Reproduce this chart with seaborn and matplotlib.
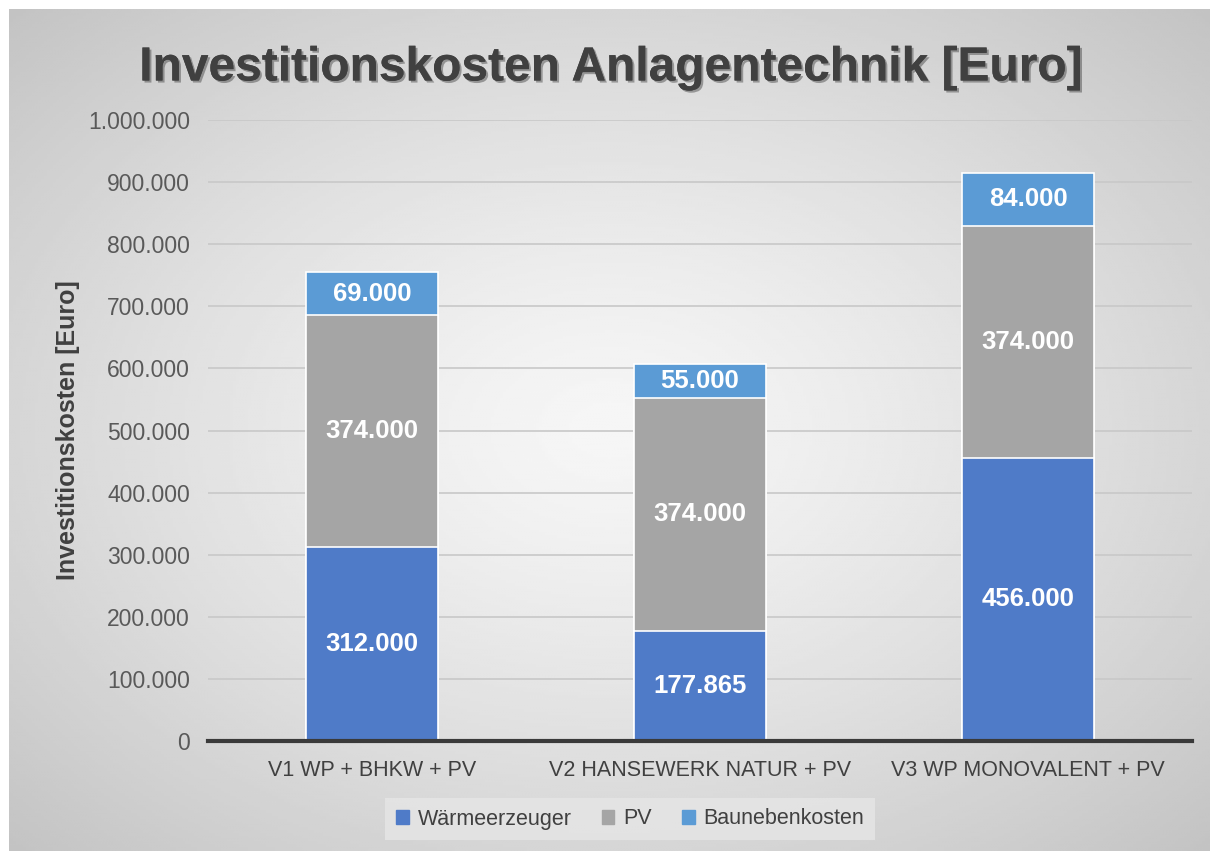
import numpy as np
import pandas as pd
import seaborn as sns
import matplotlib.pyplot as plt
from matplotlib.ticker import FuncFormatter
from matplotlib import patheffects

categories = ["V1 WP + BHKW + PV", "V2 HANSEWERK NATUR + PV", "V3 WP MONOVALENT + PV"]
waermeerzeuger = [312000, 177865, 456000]
pv = [374000, 374000, 374000]
baunebenkosten = [69000, 55000, 84000]
series_names = ["Wärmeerzeuger", "PV", "Baunebenkosten"]
colors = ["#4f7bc8", "#a5a5a5", "#5b9bd5"]

df = pd.DataFrame({"Variante": categories, "Wärmeerzeuger": waermeerzeuger,
                   "PV": pv, "Baunebenkosten": baunebenkosten})

sns.set_theme(style="white")
plt.rcParams["font.family"] = ["Liberation Sans", "DejaVu Sans"]
plt.rcParams["savefig.bbox"] = "standard"
plt.rcParams["savefig.pad_inches"] = 0

fig = plt.figure(figsize=(12.10, 8.51), dpi=100)
fig.patch.set_facecolor("white")

# radial grey background of the chart frame
bg = fig.add_axes([9 / 1210, 0, 1 - 9 / 1210, 1 - 9 / 851])
yy, xx = np.mgrid[-1:1:300j, -1:1:400j]
r = np.sqrt(xx ** 2 + yy ** 2) / np.sqrt(2)
grad = 0.965 - 0.2 * r ** 1.3
bg.imshow(grad, cmap="gray", vmin=0, vmax=1, aspect="auto", interpolation="bilinear",
          extent=(0, 1, 0, 1))
bg.set_xlim(0, 1)
bg.set_ylim(0, 1)
bg.axis("off")
bg.set_zorder(0)

ax = fig.add_axes([208 / 1210, 1 - 741 / 851, (1192 - 208) / 1210, (741 - 120) / 851])
ax.set_zorder(1)
ax.patch.set_alpha(0)

# stacked bars: draw cumulative totals from top to bottom
cum = [df["Wärmeerzeuger"], df["Wärmeerzeuger"] + df["PV"],
       df["Wärmeerzeuger"] + df["PV"] + df["Baunebenkosten"]]
for i in [2, 1, 0]:
    sns.barplot(x=df["Variante"], y=cum[i], color=colors[i], width=0.4, saturation=1,
                edgecolor="white", linewidth=1.2, ax=ax, zorder=3)

# value labels
for j in range(len(categories)):
    bottom = 0
    for vals in [waermeerzeuger, pv, baunebenkosten]:
        v = vals[j]
        ax.text(j, bottom + v / 2, f"{v:,}".replace(",", "."), ha="center", va="center",
                color="white", fontsize=18.5, fontweight="bold", zorder=5)
        bottom += v

ax.set_ylim(0, 1000000)
ax.set_xlim(-0.5, 2.5)
ax.set_yticks(np.arange(0, 1000001, 100000))
ax.yaxis.set_major_formatter(FuncFormatter(lambda v, p: f"{int(v):,}".replace(",", ".")))
ax.grid(axis="y", color="#c8c8c8", linewidth=1.2, zorder=0)
ax.set_axisbelow(True)
for s in ["top", "right", "left"]:
    ax.spines[s].set_visible(False)
ax.spines["bottom"].set_color("#3a3a3a")
ax.spines["bottom"].set_linewidth(3)
ax.spines["bottom"].set_zorder(6)
ax.tick_params(axis="y", labelsize=16.5, labelcolor="#595959", length=0, pad=13)
ax.tick_params(axis="x", labelsize=15.5, labelcolor="#404040", length=0, pad=14)
ax.set_xlabel("")
ax.set_ylabel("Investitionskosten [Euro]", fontsize=18, fontweight="bold", color="#404040", labelpad=6)

fig.text(0.505, 1 - 68 / 851, "Investitionskosten Anlagentechnik [Euro]", ha="center", va="center",
         fontsize=34.5, fontweight="bold", color="#404040",
         path_effects=[patheffects.withSimplePatchShadow(offset=(1.5, -1.5), alpha=0.35),
                       patheffects.Normal()])

handles = [plt.Rectangle((0, 0), 1, 1, color=c) for c in colors]
leg = fig.legend(handles, series_names, loc="center", bbox_to_anchor=(630 / 1210, 1 - 819 / 851),
                 ncol=3, frameon=True, fontsize=15.5, handlelength=0.6, handleheight=0.6,
                 handletextpad=0.4, columnspacing=1.4, borderpad=0.5)
leg.get_frame().set_facecolor("#e6e6e6")
leg.get_frame().set_edgecolor("none")
leg.get_frame().set_alpha(0.8)
leg.get_frame().set_boxstyle("square", pad=0)
for t in leg.get_texts():
    t.set_color("#404040")

fig.savefig("out.png", dpi=100, bbox_inches=None, pad_inches=0)
